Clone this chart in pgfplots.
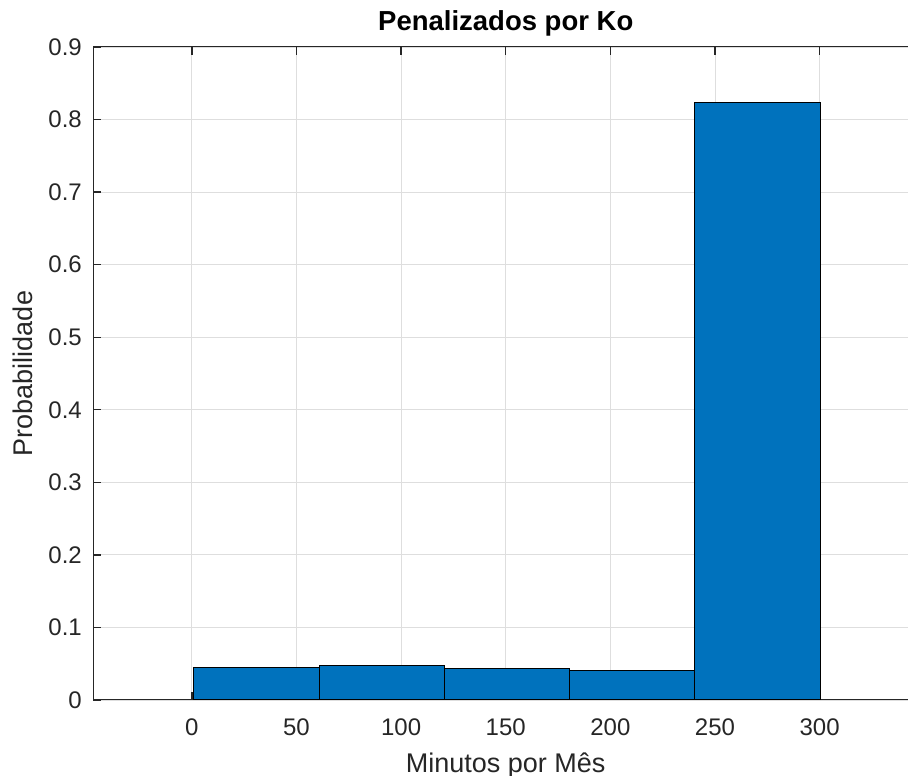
\documentclass[border=0pt]{standalone}
\usepackage{pgfplots}
\pgfplotsset{compat=1.18}
\usepackage{fontspec}
\setmainfont{Liberation Sans}
\definecolor{mbar}{RGB}{0,114,189}
\definecolor{axgray}{RGB}{38,38,38}
\begin{document}
\begin{tikzpicture}
\begin{axis}[
  at={(0pt,0pt)}, anchor=south west,
  scale only axis,
  width=824.5pt, height=653pt,
  xmin=-47, xmax=347,
  ymin=0, ymax=0.9,
  xtick={0,50,...,300},
  ytick={0,0.1,...,0.9},
  /pgf/number format/assume math mode=true,
  yticklabel style={/pgf/number format/fixed,/pgf/number format/precision=1,
     anchor=east, inner sep=0pt, xshift=-11.5pt},
  xticklabel style={anchor=base, inner sep=0pt, yshift=-36pt},
  tick label style={font=\fontsize{24}{28}\selectfont, text=axgray},
  grid=major,
  major grid style={draw=black!13, line width=0.8pt},
  axis line style={draw=axgray, line width=1pt},
  tick style={draw=axgray, line width=1.3pt},
  major tick length=8pt,
  tick align=inside,
  xtick pos=both, ytick pos=left,
  title={\textbf{Penalizados por Ko}},
  title style={font=\fontsize{27.5}{32}\selectfont, at={(axis description cs:0.5,1)}, anchor=base, inner sep=0pt, yshift=10pt},
  xlabel={Minutos por Mês},
  ylabel={Probabilidade},
  label style={font=\fontsize{27}{32}\selectfont, text=axgray},
  xlabel style={at={(axis description cs:0.5,-0.1103)}, anchor=base, inner sep=0pt},
  ylabel style={at={(axis description cs:-0.0734,0.5)}, anchor=base, inner sep=0pt},
]
\addplot[ybar interval, fill=mbar, draw=black, line width=1pt] coordinates {
  (0.9,0.0450) (60.76,0.0482) (120.62,0.0432) (180.48,0.0410) (240.34,0.8237) (300.2,0)
};
\end{axis}
\pgfresetboundingbox
\useasboundingbox (-93.5pt,-76pt) rectangle (814.5pt,700pt);
\end{tikzpicture}
\end{document}
